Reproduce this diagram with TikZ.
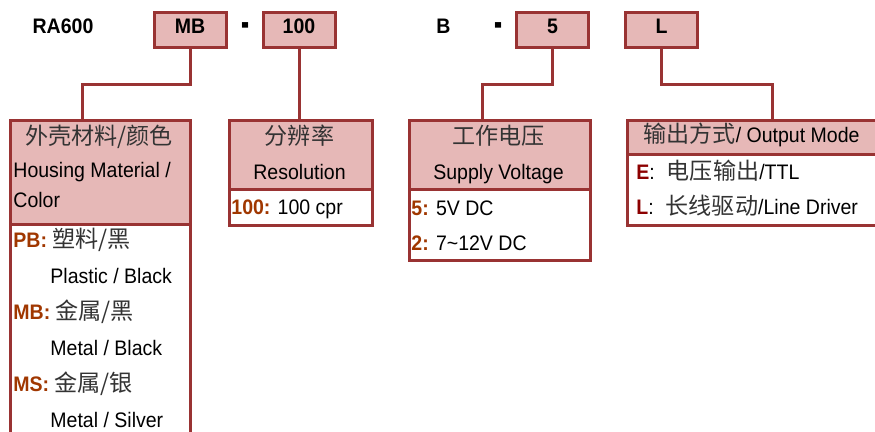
\documentclass[tikz,border=0pt]{standalone}
\usepackage{fontspec}
\setmainfont{Liberation Sans}[FakeStretch=0.93]
\newfontfamily\cjk{Noto Sans CJK SC}[Scale=1.1, Color=333333]
\usetikzlibrary{positioning}

\definecolor{frame}{RGB}{153,51,51}
\definecolor{headfill}{RGB}{230,184,183}
\definecolor{codecol}{RGB}{160,55,0}
\definecolor{modecol}{RGB}{140,0,0}

\newcommand{\optcode}[1]{\textbf{\color{codecol}#1}}
\newcommand{\modecode}[1]{\textbf{\color{modecol}#1}}

\begin{document}
\begin{tikzpicture}[x=0.5pt, y=-0.5pt,
    font=\fontsize{10.5}{12}\selectfont,
    codebox/.style={draw=frame, line width=1.5pt, fill=headfill,
        minimum width=36pt, minimum height=17.5pt, inner sep=0pt,
        font=\fontsize{10.5}{12}\selectfont\bfseries,
        text height=8pt, text depth=5pt},
    headbox/.style={draw=frame, line width=1.5pt, fill=headfill,
        anchor=north west, inner sep=0pt},
    bodybox/.style={draw=frame, line width=1.5pt, fill=white,
        anchor=north west, inner sep=0pt},
    txt/.style={anchor=base west, inner sep=0pt},
    ctxt/.style={anchor=base, inner sep=0pt},
    boldtxt/.style={anchor=base, inner sep=0pt,
        font=\fontsize{10.5}{12}\selectfont\bfseries},
    sep/.style={anchor=base, inner sep=0pt,
        font=\fontsize{13}{13}\selectfont\bfseries},
    link/.style={draw=frame, line width=1.5pt}]

    \useasboundingbox (0,0) rectangle (875,432);
    \clip (0,0) rectangle (875,432);

    %-----Model code-----
    \node [boldtxt] (model) at (63,34) {RA600};
    \node [codebox] (mb) at (190,30.5) {MB};
    \node [sep] (dashA) at (245.5,38) {\scalebox{1}[1.8]{-}};
    \node [codebox] (cpr) at (299,30.5) {100};
    \node [boldtxt] (bcode) at (443.5,34) {B};
    \node [sep] (dashB) at (499,38) {\scalebox{1}[1.8]{-}};
    \node [codebox] (volt) at (552.5,30.5) {5};
    \node [codebox] (outl) at (661.5,30.5) {L};

    %-----Option boxes-----
    % Housing Material / Color
    \node [bodybox, minimum width=90pt, minimum height=120pt] (hsgbody) at (9,223.5) {};
    \node [headbox, minimum width=90pt, minimum height=52.25pt] (hsghead) at (9,119) {};

    % Resolution
    \node [bodybox, minimum width=71.5pt, minimum height=18pt] (resbody) at (228,188) {};
    \node [headbox, minimum width=71.5pt, minimum height=34.5pt] (reshead) at (228,119) {};

    % Supply Voltage
    \node [bodybox, minimum width=90.5pt, minimum height=35.5pt] (voltbody) at (408,188) {};
    \node [headbox, minimum width=90.5pt, minimum height=34.5pt] (volthead) at (408,119) {};

    % Output Mode
    \node [bodybox, minimum width=144.5pt, minimum height=35.5pt] (outbody) at (626,153) {};
    \node [headbox, minimum width=144.5pt, minimum height=17pt] (outhead) at (626,119) {};

    %-----Links-----
    \draw [link] (mb.south) -- ++(0,35) -| ([xshift=-9pt]hsghead.north);
    \draw [link] (cpr.south) -- (cpr.south |- reshead.north);
    \draw [link] (volt.south) -- ++(0,35) -| ([xshift=-9pt]volthead.north);
    \draw [link] (outl.south) -- ++(0,35) -| (outhead.north);

    %-----Texts-----
    % Housing
    \node [ctxt] (hsgcn) at (99,145) {\cjk 外壳材料/颜色};
    \node [txt] (hsgen) at (13,178) {Housing Material /};
    \node [txt] (hsgcol) at (13,208) {Color};
    \node [txt] (pb) at (13,248) {\optcode{PB:} {\cjk 塑料/黑}};
    \node [txt] (pben) at (50,284) {Plastic / Black};
    \node [txt] (mbopt) at (13,320) {\optcode{MB:} {\cjk 金属/黑}};
    \node [txt] (mben) at (50,356) {Metal / Black};
    \node [txt] (msopt) at (13,392) {\optcode{MS:} {\cjk 金属/银}};
    \node [txt] (msen) at (50,428) {Metal / Silver};

    % Resolution
    \node [ctxt] (rescn) at (299.5,145) {\cjk 分辨率};
    \node [ctxt] (resen) at (299.5,180) {Resolution};
    \node [txt] (res100) at (231,215) {\optcode{100:} 100 cpr};

    % Supply voltage
    \node [ctxt] (voltcn) at (498.5,145) {\cjk 工作电压};
    \node [ctxt] (volten) at (498.5,180) {Supply Voltage};
    \node [txt] (volt5) at (411,216) {\optcode{5:} 5V DC};
    \node [txt] (volt2) at (411,251) {\optcode{2:} 7\textasciitilde 12V DC};

    % Output mode
    \node [txt] (outcn) at (643,143) {{\cjk 输出方式}/ Output Mode};
    \node [txt] (oute) at (636,180) {\modecode{E}:\hspace{6pt}{\cjk 电压输出}/TTL};
    \node [txt] (outld) at (636,215) {\modecode{L}:\hspace{6pt}{\cjk 长线驱动}/Line Driver};

\end{tikzpicture}
\end{document}
